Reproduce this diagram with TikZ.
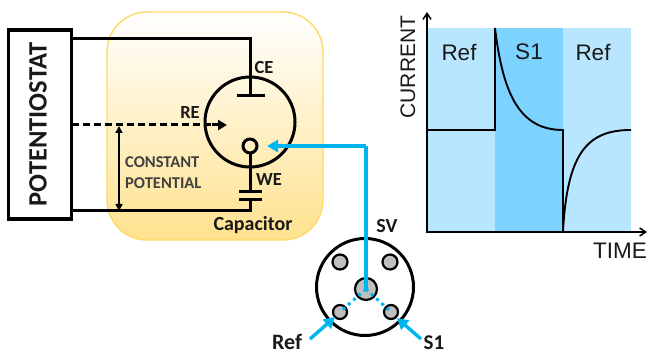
\documentclass[tikz,border=0pt]{standalone}
\usepackage{fontspec}
\setmainfont{Carlito}
\newfontfamily\arialf{Liberation Sans}
\usetikzlibrary{arrows.meta,calc}
\definecolor{cellyellow}{HTML}{FFE28F}
\definecolor{cellborder}{HTML}{FFD966}
\definecolor{flowblue}{HTML}{00B4F0}
\definecolor{bandlight}{HTML}{B9E6FF}
\definecolor{banddark}{HTML}{7DD3FF}
\definecolor{holegray}{HTML}{BFBFBF}
\tikzset{
  wire/.style={line width=3pt,black},
  flow/.style={line width=3.4pt,flowblue},
  flowdot/.style={line width=3pt,flowblue,dash pattern=on 3pt off 4pt},
  hole/.style={circle,draw=black,line width=2.2pt,fill=holegray,inner sep=0pt},
  lab/.style={font=\bfseries,inner sep=0pt,text=black!90},
  chartlab/.style={font=\arialf,inner sep=0pt,text=black!90},
  band/.style={draw=none,inner sep=0pt,minimum height=204pt,minimum width=68pt},
}
\begin{document}
\begin{tikzpicture}[x=1pt,y=-1pt]
\useasboundingbox (0,0) rectangle (647,355);
% capacitor panel
\node[draw=cellborder,line width=1.4pt,rounded corners=40pt,top color=white,bottom color=cellyellow,
  minimum width=216pt,minimum height=228pt,inner sep=0pt] (panel) at (215,126) {};
% potentiostat
\node[draw=black,line width=3.2pt,fill=white,minimum width=63pt,minimum height=189pt,inner sep=0pt] (pot) at (40,124.5) {};
\node[lab,rotate=90,font=\bfseries\fontsize{26.5}{27}\selectfont] (pottext) at (38,124.5) {POTENTIOSTAT};
% cell
\node[circle,draw=black,line width=3pt,minimum size=90pt,inner sep=0pt] (cell) at (250,122) {};
\coordinate (ceend) at (250,96);
\coordinate (ceL) at (237,96);
\coordinate (ceR) at (265,96);
\coordinate (ptop) at (72,39);
\coordinate (ctop) at (250,39);
\draw[wire] (ptop) -- (ctop) -- (ceend);
\draw[wire] (ceL) -- (ceR);
\node[circle,draw=black,line width=3pt,minimum size=14pt,inner sep=0pt] (we) at (250,146) {};
\coordinate (plate1) at (250,192);
\coordinate (plate2) at (250,200);
\coordinate (p1L) at (239,192); \coordinate (p1R) at (262,192);
\coordinate (p2L) at (239,200); \coordinate (p2R) at (262,200);
\coordinate (cbot) at (250,211);
\coordinate (pbot) at (72,211);
\draw[wire] (we.south) -- (plate1);
\draw[wire] (p1L) -- (p1R);
\draw[wire] (p2L) -- (p2R);
\draw[wire] (plate2) -- (cbot) -- (pbot);
% RE dashed
\coordinate (pre) at (72,125);
\coordinate (rearrow) at (227,125);
\coordinate (reend) at (212,125);
\draw[wire,dash pattern=on 7pt off 4pt] (pre) -- (reend);
\draw[wire,-{Triangle[length=9pt,width=10pt]}] (reend) -- (rearrow);
% constant potential
\coordinate (cp1) at (119,126);
\coordinate (cp2) at (119,211);
\draw[line width=1.6pt,{Triangle[length=7pt,width=7pt]}-{Triangle[length=7pt,width=7pt]}] (cp1) -- (cp2);
\node[lab,font=\bfseries\fontsize{16.5}{21}\selectfont,align=left,anchor=west,text=black!75] (cptext) at (125,173) {CONSTANT\\POTENTIAL};
\node[lab,font=\bfseries\fontsize{18.5}{19}\selectfont] (celab) at (264,67) {CE};
\node[lab,font=\bfseries\fontsize{18.5}{19}\selectfont] (relab) at (190,113) {RE};
\node[lab,font=\bfseries\fontsize{18.5}{19}\selectfont] (welab) at (269,180) {WE};
\node[lab,font=\bfseries\fontsize{20}{21}\selectfont] (caplab) at (253,225) {Capacitor};
% valve
\node[circle,draw=black,line width=3pt,minimum size=97pt,inner sep=0pt] (valve) at (365,287) {};
\node[hole,minimum size=15pt] (h1) at (340,262) {};
\node[hole,minimum size=15pt] (h2) at (390,262) {};
\node[hole,minimum size=22pt] (hc) at (366,289) {};
\node[hole,minimum size=14pt] (href) at (340,312) {};
\node[hole,minimum size=14pt] (hs) at (391,312) {};
\draw[flowdot] (hc.center) -- (href.center);
\draw[flowdot] (hc.center) -- (hs.center);
% flows
\coordinate (bend) at (366,146);
\coordinate (flowtip) at (267,146);
\draw[flow] (hc.center) -- (bend);
\draw[flow,-{Triangle[length=11pt,width=12pt]}] (bend) -- (flowtip);
\coordinate (refstart) at (310,339);
\coordinate (refend) at (335,317);
\coordinate (s1start) at (421,339);
\coordinate (s1end) at (397,318);
\draw[flow,-{Triangle[length=11pt,width=12pt]}] (refstart) -- (refend);
\draw[flow,-{Triangle[length=11pt,width=12pt]}] (s1start) -- (s1end);
\node[lab,font=\bfseries\fontsize{20}{21}\selectfont] (sv) at (387,226) {SV};
\node[lab,font=\bfseries\fontsize{22}{23}\selectfont] (reflab) at (287,342) {Ref};
\node[lab,font=\bfseries\fontsize{21}{22}\selectfont] (s1lab) at (434,343) {S1};
% chart bands
\node[band,fill=bandlight] (b1) at (461,130) {};
\node[band,fill=banddark] (b2) at (529,130) {};
\node[band,fill=bandlight] (b3) at (597,130) {};
\coordinate (origin) at (427,232);
\coordinate (yend) at (427,12);
\coordinate (xend) at (647,232);
\draw[line width=1.5pt,{Straight Barb[length=6pt,width=8pt]}-{Straight Barb[length=6pt,width=8pt]}] (yend) -- (origin) -- (xend);
\coordinate (c0) at (427,130);
\coordinate (c1) at (495,130);
\coordinate (c2) at (495,28);
\coordinate (c3) at (563,130);
\coordinate (c4) at (563,232);
\coordinate (c5) at (631,130);
\draw[line width=1.9pt,line join=miter] (c0) -- (c1) -- (c2)
  .. controls (503,95) and (520,130) .. (c3) -- (c4)
  .. controls (567,152) and (588,130) .. (c5);
\node[chartlab,font=\arialf\fontsize{22.5}{23}\selectfont] (t1) at (459,52) {Ref};
\node[chartlab,font=\arialf\fontsize{22.5}{23}\selectfont] (t2) at (529,52) {S1};
\node[chartlab,font=\arialf\fontsize{22.5}{23}\selectfont] (t3) at (593,52) {Ref};
\node[chartlab,font=\arialf\fontsize{21}{22}\selectfont,rotate=90] (curlab) at (408,67) {CURRENT};
\node[chartlab,font=\arialf\fontsize{22.5}{23}\selectfont] (timelab) at (620,251) {TIME};
\end{tikzpicture}
\end{document}
